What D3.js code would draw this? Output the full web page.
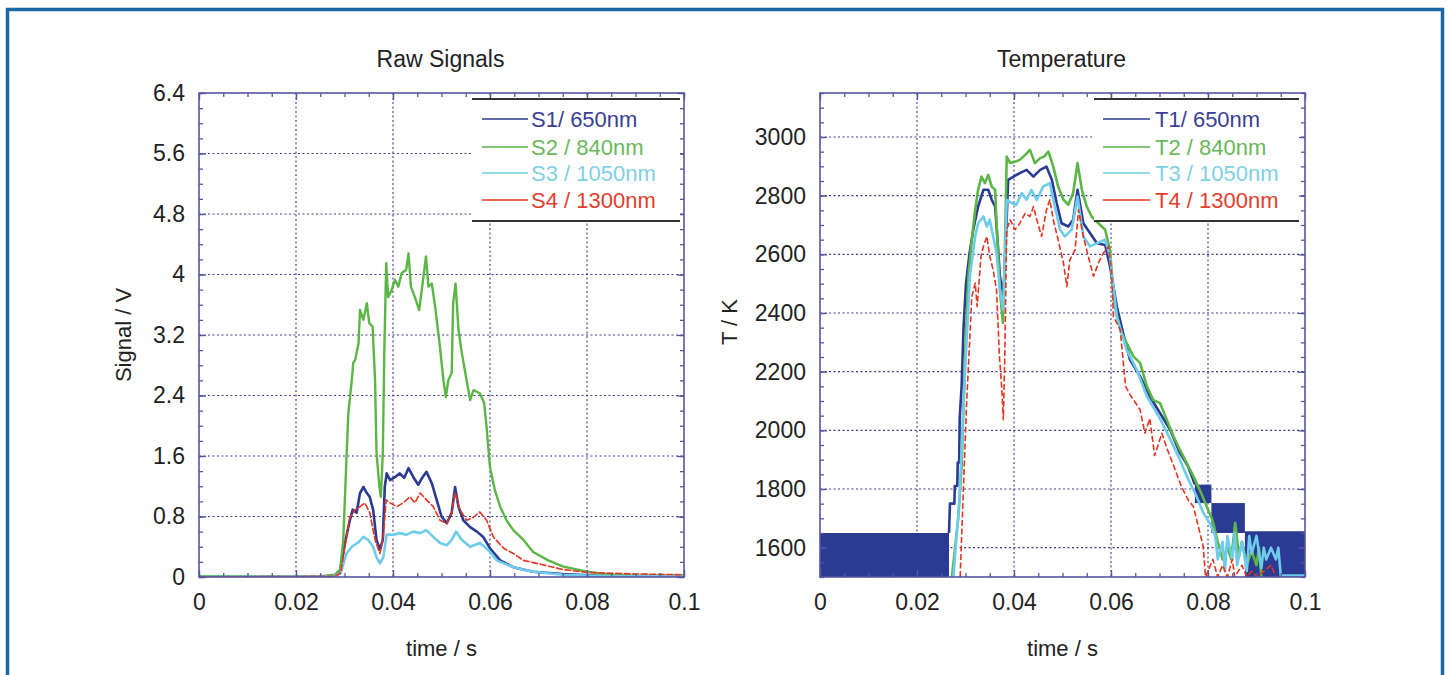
<!DOCTYPE html>
<html>
<head>
<meta charset="utf-8">
<script src="https://cdn.jsdelivr.net/npm/d3@7"></script>
<style>
  html, body { margin: 0; padding: 0; background: #ffffff; }
  svg { display: block; }
  text { font-family: "Liberation Sans", Arial, Helvetica, sans-serif; fill: #222; }
</style>
</head>
<body>
<svg id="chart" width="1451" height="675"></svg>
<script>
// ---------------- DATA ----------------
// Left panel: raw signals (time in s, signal in V)
const s1Time = [0,0.028,0.029,0.0301,0.0311,0.0317,0.0325,0.0332,0.0339,0.0346,0.0352,0.0359,0.0366,0.0373,0.0379,0.0383,0.0387,0.0394,0.0404,0.0414,0.0423,0.0432,0.0442,0.0452,0.0461,0.0469,0.048,0.049,0.05,0.0511,0.0521,0.0528,0.0535,0.0545,0.0559,0.0573,0.0586,0.06,0.0621,0.0648,0.0689,0.075,0.085,0.1];
const s1Val  = [0,0.01,0.05,0.45,0.75,0.89,0.85,1.11,1.19,1.11,1.06,0.89,0.49,0.36,0.49,1.19,1.37,1.28,1.32,1.37,1.31,1.44,1.32,1.22,1.32,1.39,1.24,1.02,0.80,0.71,0.85,1.19,0.93,0.75,0.66,0.60,0.53,0.38,0.22,0.13,0.07,0.04,0.01,0.01];

const s2Time = [0,0.025,0.028,0.0291,0.02975,0.03045,0.0308,0.0315,0.0318,0.0322,0.0329,0.0332,0.0339,0.0346,0.0351,0.0358,0.0363,0.0366,0.0372,0.0375,0.0379,0.0382,0.0386,0.039,0.0397,0.0404,0.0411,0.0418,0.0427,0.0432,0.0437,0.0445,0.0454,0.0461,0.0468,0.0473,0.048,0.0487,0.0496,0.0504,0.0509,0.0514,0.0521,0.0524,0.0529,0.0535,0.0542,0.0549,0.0559,0.0566,0.0579,0.0588,0.0593,0.06,0.061,0.0621,0.0634,0.0648,0.0669,0.0689,0.072,0.075,0.08,0.085,0.09,0.1];
const s2Val  = [0.01,0.01,0.03,0.1,0.49,1.64,2.17,2.6,2.83,2.87,3.09,3.53,3.40,3.62,3.36,3.31,2.60,1.64,1.19,1.06,1.64,2.96,4.15,3.70,3.79,3.93,3.84,4.02,4.06,4.28,3.84,3.70,3.53,3.88,4.24,3.84,3.88,3.57,3.09,2.60,2.38,2.60,2.70,3.62,3.88,3.27,2.96,2.70,2.34,2.47,2.43,2.30,1.98,1.45,1.15,0.93,0.75,0.62,0.49,0.33,0.22,0.14,0.07,0.03,0.02,0.02];

const s3Time = [0,0.028,0.0292,0.0304,0.0315,0.0329,0.0339,0.0349,0.0359,0.0366,0.0373,0.038,0.0387,0.0401,0.0414,0.0428,0.0442,0.0456,0.0469,0.0483,0.0497,0.0511,0.0521,0.053,0.0542,0.0559,0.0579,0.0596,0.0614,0.0648,0.0689,0.075,0.085,0.1];
const s3Val  = [0,0.01,0.05,0.31,0.40,0.46,0.53,0.49,0.40,0.26,0.18,0.26,0.56,0.56,0.58,0.56,0.60,0.58,0.62,0.53,0.45,0.42,0.49,0.60,0.49,0.40,0.45,0.36,0.22,0.13,0.07,0.03,0.01,0.01];

const s4Time = [0,0.028,0.0292,0.0304,0.0311,0.0322,0.0332,0.0342,0.0352,0.0363,0.0373,0.038,0.0386,0.0394,0.0408,0.0421,0.0435,0.0445,0.0456,0.0469,0.0483,0.0497,0.0511,0.0521,0.0528,0.0538,0.0552,0.0566,0.0579,0.0593,0.0607,0.0628,0.0648,0.0669,0.0696,0.075,0.08,0.09,0.1];
const s4Val  = [0,0.01,0.05,0.53,0.79,0.89,0.93,0.98,0.85,0.49,0.31,0.53,1.02,0.98,0.93,0.98,1.06,0.98,1.11,1.02,0.93,0.75,0.71,0.85,1.11,0.89,0.75,0.79,0.86,0.75,0.53,0.38,0.31,0.22,0.18,0.10,0.06,0.04,0.03];

// Right panel: temperatures (time in s, T in K)
const t1Time = [0.0266,0.0268,0.0277,0.0278,0.0283,0.0284,0.0287,0.0288,0.0292,0.0296,0.0301,0.0308,0.0316,0.0326,0.0337,0.0347,0.0354,0.0361,0.0366,0.0371,0.0378,0.0382,0.0388,0.0399,0.0412,0.0426,0.044,0.0454,0.0467,0.0478,0.0488,0.0498,0.0512,0.0522,0.0531,0.0543,0.0557,0.0571,0.0588,0.0598,0.0612,0.0625,0.0639,0.066,0.068,0.0701,0.0722,0.0742,0.0759,0.0773];
const t1Val  = [1650,1750,1750,1810,1810,1890,1890,2040,2150,2350,2500,2600,2684,2763,2820,2820,2786,2763,2650,2525,2456,2600,2854,2865,2877,2888,2865,2888,2899,2854,2775,2706,2695,2718,2820,2706,2672,2638,2632,2559,2422,2332,2241,2184,2116,2059,2002,1923,1877,1815];
// T1 noise envelope (signal jumping between levels), drawn as filled bands
const t1BandStart = [0, 0.0773, 0.0807, 0.0876];
const t1BandEnd   = [0.0266, 0.0807, 0.0876, 0.1];
const t1BandLow   = [1500, 1752, 1650, 1500];
const t1BandHigh  = [1650, 1815, 1752, 1656];

const t2Time = [0.0272,0.0285,0.0292,0.0299,0.0306,0.0313,0.032,0.0326,0.0333,0.034,0.0347,0.0354,0.0361,0.0364,0.0371,0.0377,0.0381,0.0385,0.0392,0.0402,0.0412,0.0423,0.0433,0.0443,0.0454,0.0462,0.0471,0.0481,0.0491,0.0502,0.0512,0.0522,0.0531,0.054,0.055,0.056,0.0574,0.0588,0.0598,0.0606,0.0619,0.0632,0.0646,0.066,0.0674,0.0687,0.0701,0.0715,0.0729,0.0742,0.0756,0.077,0.0785,0.08,0.081,0.082,0.083,0.084,0.0848,0.0856,0.0864,0.087,0.088,0.089,0.09,0.0905,0.091];
const t2Val  = [1500,1700,1877,2252,2525,2650,2752,2820,2865,2843,2871,2831,2820,2707,2479,2366,2593,2933,2911,2916,2922,2939,2956,2911,2928,2933,2950,2899,2831,2786,2769,2809,2911,2820,2763,2729,2706,2684,2615,2440,2343,2298,2252,2230,2150,2104,2093,2036,1979,1934,1889,1843,1790,1730,1690,1620,1560,1600,1560,1685,1570,1620,1540,1590,1540,1600,1500];

const t3Time = [0.0275,0.0287,0.0299,0.0309,0.032,0.0326,0.0337,0.0344,0.035,0.0357,0.0364,0.0371,0.0378,0.0385,0.0395,0.0405,0.0416,0.0426,0.0436,0.0447,0.046,0.0474,0.0484,0.0495,0.0505,0.0519,0.0531,0.0543,0.0557,0.0571,0.0588,0.0598,0.0612,0.0632,0.0653,0.0674,0.0701,0.0722,0.0742,0.076,0.0775,0.079,0.0805,0.0815,0.082,0.083,0.0835,0.084,0.085,0.0855,0.086,0.087,0.088,0.0885,0.089,0.09,0.091,0.0915,0.092,0.093,0.094,0.0945,0.095,0.1];
const t3Val  = [1500,1750,2195,2525,2661,2706,2729,2695,2718,2661,2604,2479,2411,2786,2775,2769,2809,2786,2820,2786,2831,2843,2763,2684,2661,2684,2797,2661,2627,2638,2650,2593,2388,2275,2207,2116,2040,1970,1900,1830,1780,1720,1680,1640,1560,1620,1520,1640,1560,1650,1540,1620,1520,1640,1580,1640,1530,1600,1560,1600,1560,1600,1505,1505];

const t4Time = [0.0289,0.0302,0.0313,0.032,0.0324,0.0332,0.0337,0.0344,0.035,0.0357,0.0364,0.037,0.0375,0.0378,0.0381,0.0385,0.0392,0.0402,0.0412,0.0423,0.0433,0.044,0.0447,0.0457,0.0467,0.0474,0.0481,0.0491,0.0502,0.0509,0.0515,0.0526,0.0533,0.0543,0.0553,0.0564,0.0574,0.0584,0.0595,0.0601,0.0605,0.0619,0.063,0.064,0.066,0.067,0.068,0.069,0.0705,0.0715,0.0729,0.0745,0.076,0.077,0.079,0.0795,0.081,0.082,0.083,0.084,0.085,0.0855,0.087,0.088,0.089,0.09,0.093,0.094];
const t4Val  = [1500,2082,2456,2502,2422,2593,2627,2661,2593,2547,2479,2252,2138,2036,2252,2684,2718,2684,2706,2740,2729,2763,2718,2661,2752,2786,2718,2650,2570,2490,2581,2615,2752,2661,2593,2525,2570,2604,2627,2547,2388,2343,2150,2120,2070,1990,2040,1914,1990,1940,1880,1809,1760,1740,1605,1500,1560,1500,1540,1500,1560,1500,1540,1500,1520,1500,1540,1500];

// Axes / labels
const xTicks = [0, 0.02, 0.04, 0.06, 0.08, 0.1];
const xTickLabels = ["0", "0.02", "0.04", "0.06", "0.08", "0.1"];
const sigTicks = [0, 0.8, 1.6, 2.4, 3.2, 4, 4.8, 5.6, 6.4];
const sigTickLabels = ["0", "0.8", "1.6", "2.4", "3.2", "4", "4.8", "5.6", "6.4"];
const tempTicks = [1600, 1800, 2000, 2200, 2400, 2600, 2800, 3000];
const tempTickLabels = ["1600", "1800", "2000", "2200", "2400", "2600", "2800", "3000"];
const sigNames = ["S1/ 650nm", "S2 / 840nm", "S3 / 1050nm", "S4 / 1300nm"];
const tempNames = ["T1/ 650nm", "T2 / 840nm", "T3 / 1050nm", "T4 / 1300nm"];
const seriesColors = ["#2b3a93", "#5cb646", "#6fcbea", "#e5341f"];
const legendTextColors = ["#3a4096", "#6ab85a", "#7fcfe6", "#e2402c"];

// ---------------- DRAWING ----------------
const svg = d3.select("#chart");

// outer frame
svg.append("rect").attr("x", 7.5).attr("y", 9.5).attr("width", 1435).attr("height", 720)
  .attr("fill", "none").attr("stroke", "#1b68a6").attr("stroke-width", 3.5);

const gridColor = "#3a3a95";
const frameColor = "#5656a0";

function drawPanel(cfg) {
  const x = d3.scaleLinear().domain(cfg.xDomain).range([cfg.left, cfg.right]);
  const y = d3.scaleLinear().domain(cfg.yDomain).range([cfg.bottom, cfg.top]);
  const g = svg.append("g");

  const clipId = "clip" + cfg.id;
  g.append("clipPath").attr("id", clipId).append("rect")
    .attr("x", cfg.left).attr("y", cfg.top)
    .attr("width", cfg.right - cfg.left).attr("height", cfg.bottom - cfg.top);

  // grid
  const grid = g.append("g");
  cfg.xTicks.filter(v => v > cfg.xDomain[0] && v < cfg.xDomain[1]).forEach(v => {
    grid.append("line").attr("x1", x(v)).attr("x2", x(v)).attr("y1", cfg.top).attr("y2", cfg.bottom)
      .attr("stroke", gridColor).attr("stroke-width", 1.1).attr("stroke-dasharray", "2,2.5");
  });
  cfg.yTicks.filter(v => v > cfg.yDomain[0] && v < cfg.yDomain[1]).forEach(v => {
    grid.append("line").attr("x1", cfg.left).attr("x2", cfg.right).attr("y1", y(v)).attr("y2", y(v))
      .attr("stroke", gridColor).attr("stroke-width", 1.1).attr("stroke-dasharray", "2,2.5");
  });

  const plot = g.append("g").attr("clip-path", `url(#${clipId})`);
  if (cfg.bands) {
    plot.selectAll("rect.band").data(cfg.bands).enter().append("rect")
      .attr("x", d => x(d.s)).attr("width", d => x(d.e) - x(d.s))
      .attr("y", d => y(d.hi)).attr("height", d => y(d.lo) - y(d.hi))
      .attr("fill", seriesColors[0]);
  }
  const line = d3.line().x(d => x(d[0])).y(d => y(d[1]));
  cfg.series.forEach((s, i) => {
    const pts = s.t.map((t, k) => [t, s.v[k]]);
    plot.append("path").attr("d", line(pts)).attr("fill", "none")
      .attr("stroke", seriesColors[i]).attr("stroke-width", s.w)
      .attr("stroke-linejoin", "round")
      .attr("stroke-dasharray", s.dash || null);
  });

  // frame
  g.append("rect").attr("x", cfg.left).attr("y", cfg.top)
    .attr("width", cfg.right - cfg.left).attr("height", cfg.bottom - cfg.top)
    .attr("fill", "none").attr("stroke", frameColor).attr("stroke-width", 1.6);

  // axes with inward ticks
  const xMinor = d3.range(cfg.xDomain[0], cfg.xDomain[1] + 1e-9, cfg.xMinorStep);
  const yMinor = d3.range(cfg.yMinorStart, cfg.yDomain[1] + 1e-9, cfg.yMinorStep);
  function styleAxis(sel) {
    sel.select(".domain").remove();
    sel.selectAll(".tick line").attr("stroke", frameColor).attr("stroke-width", 1.3);
    sel.selectAll(".tick text").attr("font-size", "23px").attr("fill", "#222")
      .attr("font-family", '"Liberation Sans", Arial, sans-serif');
  }
  const bx = g.append("g").attr("transform", `translate(0,${cfg.bottom})`)
    .call(d3.axisBottom(x).tickValues(cfg.xTicks).tickFormat((d, i) => cfg.xTickLabels[i]).tickSize(-7).tickPadding(17));
  styleAxis(bx);
  bx.selectAll(".tick text").attr("dy", "0.71em");
  styleAxis(g.append("g").attr("transform", `translate(0,${cfg.bottom})`)
    .call(d3.axisBottom(x).tickValues(xMinor).tickFormat("").tickSize(-4)));
  styleAxis(g.append("g").attr("transform", `translate(0,${cfg.top})`)
    .call(d3.axisTop(x).tickValues(cfg.xTicks).tickFormat("").tickSize(-7)));
  styleAxis(g.append("g").attr("transform", `translate(0,${cfg.top})`)
    .call(d3.axisTop(x).tickValues(xMinor).tickFormat("").tickSize(-4)));
  styleAxis(g.append("g").attr("transform", `translate(${cfg.left},0)`)
    .call(d3.axisLeft(y).tickValues(cfg.yTicks).tickFormat((d, i) => cfg.yTickLabels[i]).tickSize(-7).tickPadding(14)));
  styleAxis(g.append("g").attr("transform", `translate(${cfg.left},0)`)
    .call(d3.axisLeft(y).tickValues(yMinor).tickFormat("").tickSize(-4)));
  styleAxis(g.append("g").attr("transform", `translate(${cfg.right},0)`)
    .call(d3.axisRight(y).tickValues(cfg.yTicks).tickFormat("").tickSize(-7)));
  styleAxis(g.append("g").attr("transform", `translate(${cfg.right},0)`)
    .call(d3.axisRight(y).tickValues(yMinor).tickFormat("").tickSize(-4)));

  // legend
  const L = cfg.legend;
  g.append("rect").attr("x", L.x0).attr("y", L.top).attr("width", L.x1 - L.x0).attr("height", L.bottom - L.top)
    .attr("fill", "#ffffff");
  [L.top, L.bottom].forEach(yy => {
    g.append("line").attr("x1", L.x0).attr("x2", L.x1).attr("y1", yy).attr("y2", yy)
      .attr("stroke", "#333").attr("stroke-width", 2.2);
  });
  cfg.names.forEach((nm, i) => {
    const yy = L.rows[i];
    g.append("line").attr("x1", L.sx0).attr("x2", L.sx1).attr("y1", yy).attr("y2", yy)
      .attr("stroke", seriesColors[i]).attr("stroke-width", 1.6);
    g.append("text").attr("x", L.tx).attr("y", yy).attr("dy", "0.36em")
      .attr("font-size", "22px").style("fill", legendTextColors[i]).text(nm);
  });

  // titles
  const cx = (cfg.left + cfg.right) / 2;
  g.append("text").attr("x", cx - 1).attr("y", 67).attr("text-anchor", "middle")
    .attr("font-size", "23px").text(cfg.title);
  g.append("text").attr("x", cx).attr("y", 656).attr("text-anchor", "middle")
    .attr("font-size", "22px").text("time / s");
  g.append("text").attr("transform", `translate(${cfg.yLabelX},${cfg.yLabelY}) rotate(-90)`)
    .attr("text-anchor", "middle").attr("font-size", "22px").text(cfg.yLabel);
}

drawPanel({
  id: "L", left: 199, right: 684, top: 93, bottom: 577,
  xDomain: [0, 0.1], yDomain: [0, 6.4],
  xTicks: xTicks, xTickLabels: xTickLabels, yTicks: sigTicks, yTickLabels: sigTickLabels,
  xMinorStep: 0.005, yMinorStart: 0, yMinorStep: 0.2,
  series: [
    { t: s1Time, v: s1Val, w: 2.6 },
    { t: s2Time, v: s2Val, w: 2.4 },
    { t: s3Time, v: s3Val, w: 2.6 },
    { t: s4Time, v: s4Val, w: 1.6, dash: "7,1.5" }
  ],
  names: sigNames,
  legend: { x0: 472, x1: 680, top: 99, bottom: 221, sx0: 482, sx1: 528, tx: 531, rows: [119, 147, 173, 200] },
  title: "Raw Signals", yLabel: "Signal / V", yLabelX: 131, yLabelY: 335
});

drawPanel({
  id: "R", left: 820, right: 1305, top: 93, bottom: 577,
  xDomain: [0, 0.1], yDomain: [1500, 3150],
  xTicks: xTicks, xTickLabels: xTickLabels, yTicks: tempTicks, yTickLabels: tempTickLabels,
  xMinorStep: 0.005, yMinorStart: 1500, yMinorStep: 50,
  bands: t1BandStart.map((s, i) => ({ s: s, e: t1BandEnd[i], lo: t1BandLow[i], hi: t1BandHigh[i] })),
  series: [
    { t: t1Time, v: t1Val, w: 2.6 },
    { t: t2Time, v: t2Val, w: 2.6 },
    { t: t3Time, v: t3Val, w: 2.6 },
    { t: t4Time, v: t4Val, w: 1.6, dash: "6,2.5" }
  ],
  names: tempNames,
  legend: { x0: 1094, x1: 1299, top: 99, bottom: 221, sx0: 1103, sx1: 1150, tx: 1155, rows: [119, 147, 173, 200] },
  title: "Temperature", yLabel: "T / K", yLabelX: 737, yLabelY: 322
});
</script>
</body>
</html>
